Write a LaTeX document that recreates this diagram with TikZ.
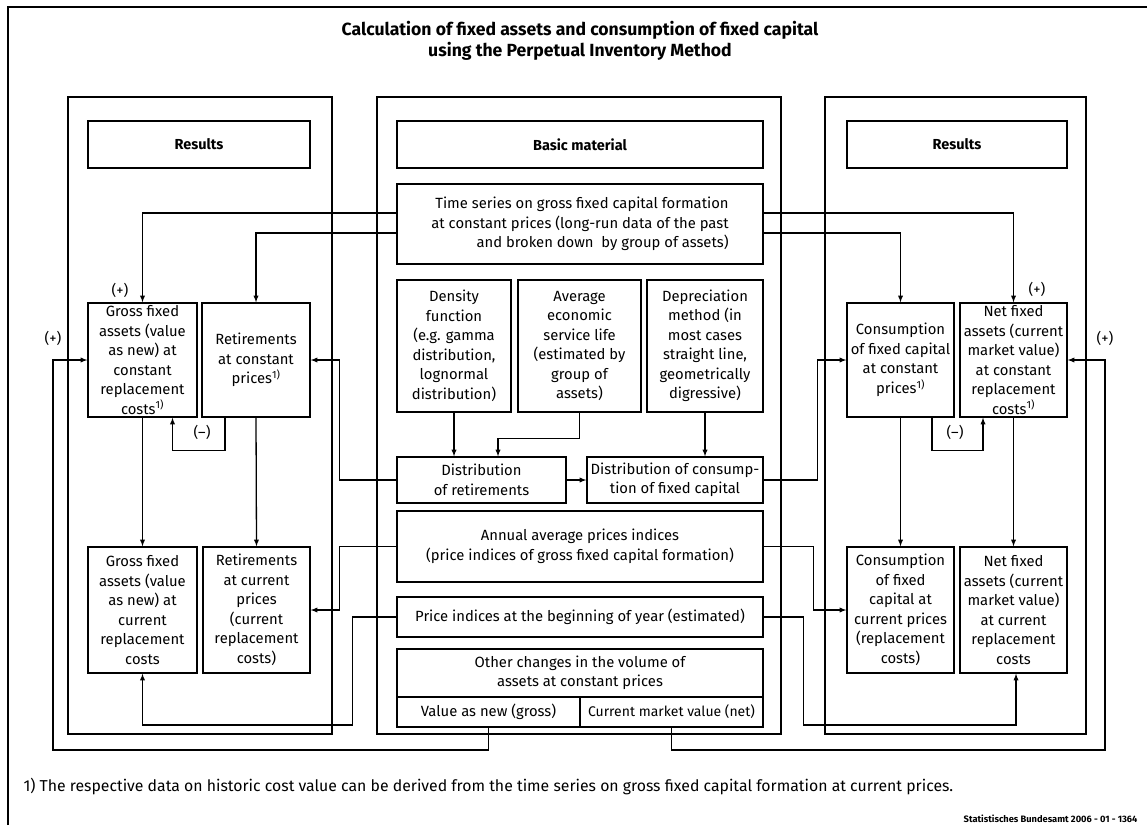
\documentclass[tikz,border=0pt]{standalone}
\usepackage{fontspec}
\setmainfont{Fira Sans}
\usetikzlibrary{positioning}

\begin{document}
\begin{tikzpicture}[x=1pt,y=-1pt,
  box/.style={draw,line width=1.3pt,align=center,inner sep=0pt,font=\fontsize{14.8}{19.5}\selectfont},
  headbox/.style={box,font=\fontsize{14.5}{16}\selectfont\bfseries},
  wire/.style={line width=1.3pt},
  arr/.style={line width=1.3pt,-latex},
  sign/.style={font=\fontsize{14.5}{16}\selectfont}]
  \useasboundingbox (0,0) rectangle (1147,825);

  %% frame and title
  \draw[line width=1.4pt] (8,825) -- (8,7) -- (1147,7);
  \node[font=\fontsize{17.6}{21}\selectfont\bfseries,align=center] (title) at (580,41)
    {Calculation of fixed assets and consumption of fixed capital\\using the Perpetual Inventory Method};

  %% panels
  \draw[wire] (68,97) rectangle (332,734);
  \draw[wire] (377,97) rectangle (781,734);
  \draw[wire] (825,97) rectangle (1086,734);

  \node[headbox,minimum width=222pt,minimum height=47pt] (lres) at (199,144.5) {Results};
  \node[headbox,minimum width=366pt,minimum height=47pt] (basic) at (580,144.5) {Basic material};
  \node[headbox,minimum width=220pt,minimum height=47pt] (rres) at (957,144.5) {Results};

  %% basic material
  \node[box,align=right,minimum width=366pt,minimum height=80pt] (timeser) at (580,224)
    {Time series on gross fixed capital formation\\at constant prices (long-run data of the past\\and broken down\ \ by group of assets)};
  \node[box,minimum width=114pt,minimum height=132pt] (density) at (454,346)
    {Density\\function\\(e.g. gamma\\distribution,\\lognormal\\distribution)};
  \node[box,minimum width=123pt,minimum height=132pt] (life) at (579.5,346)
    {Average\\economic\\service life\\(estimated by\\group of\\assets)};
  \node[box,minimum width=116pt,minimum height=132pt] (deprec) at (705,346)
    {Depreciation\\method (in\\most cases\\straight line,\\geometrically\\digressive)};
  \node[box,minimum width=169pt,minimum height=46pt] (distret) at (481.5,480)
    {Distribution\\of retirements};
  \node[box,minimum width=176pt,minimum height=46pt] (distcon) at (675,480)
    {Distribution of consump-\\tion of fixed capital};
  \node[box,minimum width=366pt,minimum height=71pt] (annual) at (580,546.5)
    {Annual average prices indices\\(price indices of gross fixed capital formation)};
  \node[box,minimum width=366pt,minimum height=40pt] (pbeg) at (580,617)
    {Price indices at the beginning of year (estimated)};
  \node[box,minimum width=366pt,minimum height=48pt] (other) at (580,673)
    {Other changes in the volume of\\assets at constant prices};
  \node[box,minimum width=183pt,minimum height=30pt] (valnew) at (488.5,712)
    {Value as new (gross)};
  \node[box,minimum width=183pt,minimum height=30pt,font=\fontsize{14}{19.5}\selectfont] (curmkt) at (671.5,712)
    {Current market value (net)};

  %% results, left
  \node[box,minimum width=109pt,minimum height=114pt] (gfac) at (142.5,360)
    {Gross fixed\\assets (value\\as new) at\\constant\\replacement\\costs\textsuperscript{1)}};
  \node[box,minimum width=108pt,minimum height=114pt] (retc) at (256,360)
    {Retirements\\at constant\\prices\textsuperscript{1)}};
  \node[box,minimum width=109pt,minimum height=126pt] (gfcur) at (142.5,610)
    {Gross fixed\\assets (value\\as new) at\\current\\replacement\\costs};
  \node[box,minimum width=107pt,minimum height=126pt] (retcur) at (256.5,610)
    {Retirements\\at current\\prices\\(current\\replacement\\costs)};

  %% results, right
  \node[box,minimum width=107pt,minimum height=114pt] (cfcc) at (900.5,360)
    {Consumption\\of fixed capital\\at constant\\prices\textsuperscript{1)}};
  \node[box,minimum width=107pt,minimum height=114pt] (nfac) at (1013.5,360)
    {Net fixed\\assets (current\\market value)\\at constant\\replacement\\costs\textsuperscript{1)}};
  \node[box,minimum width=107pt,minimum height=126pt] (cfccur) at (900.5,610)
    {Consumption\\of fixed\\capital at\\current prices\\(replacement\\costs)};
  \node[box,minimum width=107pt,minimum height=126pt] (nfcur) at (1013.5,610)
    {Net fixed\\assets (current\\market value)\\at current\\replacement\\costs};

  %% time series
  \draw[arr] ([yshift=11pt]timeser.west) -| (gfac.north);
  \draw[arr] ([yshift=-9pt]timeser.west) -| (retc.north);
  \draw[arr] ([yshift=11pt]timeser.east) -| (nfac.north);
  \draw[arr] ([yshift=-9pt]timeser.east) -| (cfcc.north);

  %% constant -> current
  \draw[arr] (gfac.south) -- (gfcur.north);
  \draw[arr] (retc.south) -- (retcur.north);
  \draw[arr] (cfcc.south) -- (cfccur.north);
  \draw[arr] (nfac.south) -- (nfcur.north);

  %% (-) loops
  \draw[arr] ([xshift=-31pt]retc.south) -- ++(0,33) -| ([xshift=30pt]gfac.south);
  \draw[arr] ([xshift=31.5pt]cfcc.south) -- ++(0,33) -| ([xshift=-30.5pt]nfac.south);
  \node[sign] (minl) at (202,432) {(--)};
  \node[sign] (minr) at (955,432) {(--)};

  %% distributions
  \draw[arr] (density.south) -- (density.south |- distret.north);
  \draw[arr] (life.south) -- ++(0,26) -| ([xshift=16.5pt]distret.north);
  \draw[arr] (deprec.south) -- (deprec.south |- distcon.north);
  \draw[arr] (distret.east) -- (distcon.west);
  \draw[arr] (distret.west) -- ++(-57,0) |- (retc.east);
  \draw[arr] (distcon.east) -- ++(54,0) |- (cfcc.west);

  %% prices
  \draw[arr] (annual.west) -- ++(-57,0) |- (retcur.east);
  \draw[arr] (annual.east) -- ++(50,0) |- (cfccur.west);
  \draw[arr] (pbeg.west) -- ++(-44,0) -- ++(0,108) -| (gfcur.south);
  \draw[arr] (pbeg.east) -- ++(40,0) -- ++(0,108) -| ([xshift=2.5pt]nfcur.south);

  %% other changes
  \coordinate (lret) at (53,750);
  \coordinate (rret) at (1105,750);
  \draw[arr] (valnew.south) |- (lret) |- (gfac.west);
  \draw[arr] (curmkt.south) |- (rret) |- (nfac.east);

  \node[sign] (plgf) at (120,290) {(+)};
  \node[sign] (plleft) at (53,338) {(+)};
  \node[sign] (plnf) at (1037,289) {(+)};
  \node[sign] (plright) at (1105,338) {(+)};

  %% notes
  \node[anchor=west,font=\fontsize{15.8}{18}\selectfont] (note) at (20,786)
    {1) The respective data on historic cost value can be derived from the time series on gross fixed capital formation at current prices.};
  \node[anchor=east,font=\fontsize{9.3}{11}\selectfont\bfseries] (source) at (1141,819)
    {Statistisches Bundesamt 2006 - 01 - 1364};
\end{tikzpicture}
\end{document}
